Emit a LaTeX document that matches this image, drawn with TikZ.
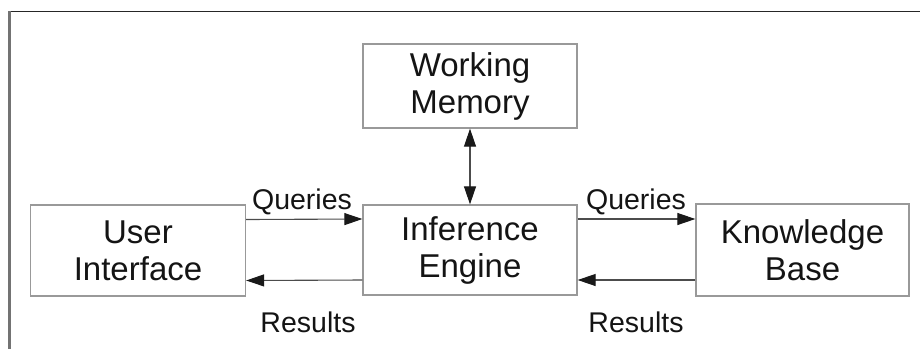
\documentclass[tikz,border=0pt]{standalone}
\usepackage{fontspec}
\setmainfont{Liberation Sans}
\usetikzlibrary{arrows.meta}
\begin{document}
\begin{tikzpicture}[x=1pt,y=-1pt,
  block/.style={draw=black!40, line width=1.3pt, rectangle, inner sep=0pt,
    align=center, font=\fontsize{33}{37}\selectfont, text=black!92},
  flow/.style={draw=black!70, line width=1.1pt, -{Triangle[length=18pt,width=12pt,color=black!90]}},
  both/.style={draw=black!70, line width=1.1pt,
    {Triangle[length=18pt,width=12pt,color=black!90]}-{Triangle[length=18pt,width=12pt,color=black!90]}},
  lbl/.style={inner sep=0pt, anchor=base, font=\fontsize{28.5}{32}\selectfont, text=black!92}]
  \useasboundingbox (0,0) rectangle (920,349);
  % frame edges
  \draw[black!85, line width=1.5pt] (9,11.5) -- (920,11.5);
  \draw[black!55, line width=2.5pt] (9.5,11) -- (9.5,349);
  % blocks
  \node[block, minimum width=215pt, minimum height=91pt] (ui) at (138,250.5) {User\\Interface};
  \node[block, minimum width=214pt, minimum height=90pt] (ie) at (470,250) {Inference\\Engine};
  \node[block, minimum width=214pt, minimum height=84pt] (wm) at (470,86) {Working\\Memory};
  \node[block, minimum width=213pt, minimum height=92pt] (kb) at (802.5,250) {Knowledge\\Base};
  % connectors
  \draw[flow] ([yshift=31pt]ui.east) -- ([yshift=31pt]ie.west);
  \draw[flow] ([yshift=-30pt]ie.west) -- ([yshift=-30pt]ui.east);
  \draw[flow] ([yshift=31pt]ie.east) -- ([yshift=31pt]kb.west);
  \draw[flow] ([yshift=-30pt]kb.west) -- ([yshift=-30pt]ie.east);
  \draw[both] (wm.south) -- (ie.north);
  % labels
  \node[lbl] (q1) at (302,209) {Queries};
  \node[lbl] (q2) at (636,209) {Queries};
  \node[lbl] (r1) at (308,332) {Results};
  \node[lbl] (r2) at (636,332) {Results};
\end{tikzpicture}
\end{document}
